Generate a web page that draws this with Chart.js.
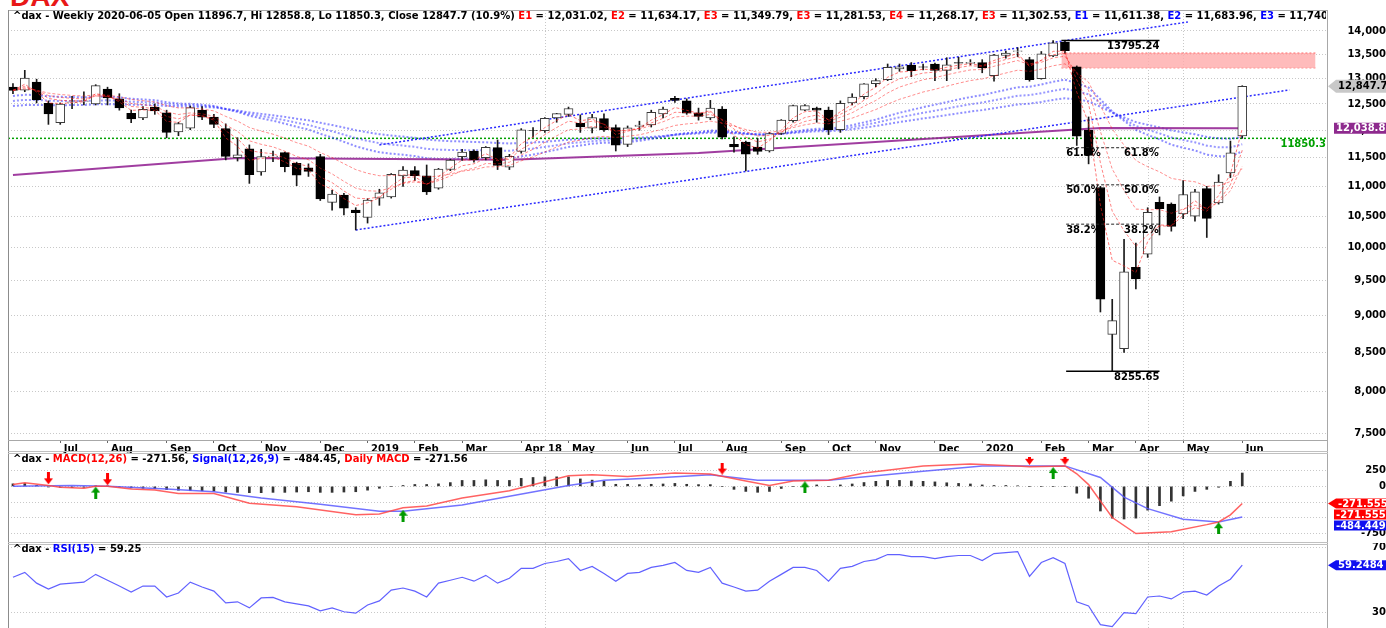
<!DOCTYPE html>
<html>
<head>
<meta charset="utf-8">
<title>DAX weekly</title>
<script src="https://cdn.jsdelivr.net/npm/chart.js@4.4.1/dist/chart.umd.min.js"></script>
<style>
  html, body { margin: 0; padding: 0; background: #fff; }
  body { position: relative; width: 1386px; height: 628px; overflow: hidden; font-family: "DejaVu Sans", Verdana, sans-serif; }
  canvas { position: absolute; left: 0; }
  .rule { position: absolute; background: #a8a8a8; z-index: 4; }
  .ttl { position: absolute; left: 13px; width: 1313px; overflow: hidden; white-space: nowrap;
         font: bold 10px "DejaVu Sans", Verdana, sans-serif; line-height: 12px; color: #000; z-index: 5; }
  .r { color: #ff0000; }
  .b { color: #0000ff; }
  #dax { position: absolute; left: 10px; top: -17px; font: bold 28px "Liberation Sans", Arial, sans-serif;
         line-height: 28px; color: #e81818; }
</style>
</head>
<body>
<div id="dax">DAX</div>
<canvas id="priceChart" width="1386" height="453" style="top:0"></canvas>
<canvas id="macdChart" width="1386" height="91" style="top:452px"></canvas>
<canvas id="rsiChart" width="1386" height="85" style="top:543px"></canvas>

<div class="rule" style="left:8px;top:10px;width:1320px;height:1px"></div>
<div class="rule" style="left:8px;top:10px;width:1px;height:618px;background:#8c8c8c"></div>
<div class="rule" style="left:1327px;top:10px;width:1px;height:618px"></div>
<div class="rule" style="left:8px;top:440px;width:1320px;height:1px"></div>
<div class="rule" style="left:8px;top:451px;width:1320px;height:1px;background:#c0c0c0"></div>
<div class="rule" style="left:8px;top:453px;width:1320px;height:1px;background:#c0c0c0"></div>
<div class="rule" style="left:8px;top:542px;width:1320px;height:1px;background:#c0c0c0"></div>
<div class="rule" style="left:8px;top:544px;width:1320px;height:1px;background:#c0c0c0"></div>

<div class="ttl" style="top:10px">^dax - Weekly 2020-06-05 Open 11896.7, Hi 12858.8, Lo 11850.3, Close 12847.7 (10.9%) <span class="r">E1</span> = 12,031.02, <span class="r">E2</span> = 11,634.17, <span class="r">E3</span> = 11,349.79, <span class="r">E3</span> = 11,281.53, <span class="r">E4</span> = 11,268.17, <span class="r">E3</span> = 11,302.53, <span class="b">E1</span> = 11,611.38, <span class="b">E2</span> = 11,683.96, <span class="b">E3</span> = 11,740.90</div>
<div class="ttl" style="top:453px">^dax - <span class="r">MACD(12,26)</span> = -271.56, <span class="b">Signal(12,26,9)</span> = -484.45, <span class="r">Daily MACD</span> = -271.56</div>
<div class="ttl" style="top:543px">^dax - <span class="b">RSI(15)</span> = 59.25</div>

<script>
// weekly bars, 2018-06-08 .. 2020-06-05 (index 0..104)
const opens = [12830,12770,12930,12510,12140,12530,12550,12500,12790,12600,
  12320,12230,12440,12330,11970,12040,12380,12250,12030,11500,
  11660,11250,11510,11590,11400,11320,11520,10730,10850,10600,
  10480,10800,10820,11180,11270,11180,10970,11290,11520,11620,
  11500,11680,11330,11610,12000,11990,12230,12300,12130,12040,
  12220,12050,11740,12070,12100,12310,12610,12560,12330,12230,
  12400,11740,11780,11690,11620,11940,12180,12380,12420,12380,
  12010,12520,12640,12900,12980,13200,13270,13240,13300,13170,
  13330,13310,13330,13060,13480,13560,13390,13000,13470,13760,
  13240,12000,10980,8740,8550,9700,9900,10730,10700,10540,
  10500,10960,10720,11230,11896.7];
const highs = [12900,13170,12990,12560,12520,12650,12740,12880,12830,12700,
  12380,12450,12500,12380,12150,12460,12450,12300,12120,11860,
  11730,11650,11620,11600,11420,11390,11560,10930,10880,10640,
  10790,10950,11220,11340,11340,11370,11310,11470,11650,11640,
  11700,11820,11560,12030,12050,12240,12320,12440,12290,12300,
  12310,12100,12080,12170,12380,12440,12650,12600,12420,12570,
  12450,11880,11800,11850,11960,12200,12480,12490,12440,12440,
  12560,12700,12900,13000,13300,13300,13330,13300,13320,13430,
  13440,13390,13390,13500,13570,13640,13440,13560,13790,13795.24,
  13260,12250,11000,9230,10130,10070,10640,10820,10720,11100,
  10950,11000,11200,11800,12858.8];
const lows = [12700,12740,12520,12110,12110,12410,12480,12480,12480,12380,
  12140,12200,12300,11860,11900,12010,12200,12050,11460,11440,
  11050,11190,11430,11250,11010,11170,10760,10600,10520,10279,
  10390,10680,10800,11000,11100,10860,10950,11270,11450,11420,
  11460,11290,11290,11580,11870,11960,12150,12260,11960,11950,
  11980,11620,11700,12000,12060,12230,12530,12300,12190,12200,
  11840,11600,11266,11560,11600,11920,12150,12370,12150,11920,
  11960,12480,12600,12840,12960,13150,13040,13180,12960,12960,
  13200,13280,13120,12950,13420,13450,12950,12990,13450,13520,
  11720,11390,9050,8255.65,8500,9380,9850,10200,10260,10460,
  10420,10160,10700,11150,11850.3];
const closes = [12766,13011,12580,12306,12496,12541,12561,12860,12616,12424,
  12211,12395,12364,11960,12124,12431,12247,12111,11524,11553,
  11201,11519,11529,11341,11192,11257,10788,10866,10634,10559,
  10768,10887,11205,11282,11181,10906,11299,11458,11602,11458,
  11686,11364,11526,12010,11999,12222,12315,12412,12060,12239,
  12011,11727,12045,12096,12340,12399,12568,12323,12260,12419,
  11872,11694,11563,11612,11939,12191,12469,12468,12381,12013,
  12512,12634,12895,12961,13229,13242,13164,13236,13167,13283,
  13319,13337,13219,13483,13526,13577,12982,13514,13745,13579,
  11890,11541,9232,8929,9633,9525,10565,10626,10336,10861,
  10904,10465,11074,11586,12847.7];

// short-term averages (red, dashed)
const redE1 = [12766,12889,12734,12520,12508,12525,12543,12701,12659,12541,12376,12386,12375,12168,12146,12289,12268,12190,11857,11705,11453,11486,11508,11425,11309,11283,11036,10951,10793,10676,10722,10805,11005,11144,11163,11035,11167,11313,11458,11458,11572,11468,11497,11754,11877,12050,12183,12298,12179,12209,12110,11919,11982,12039,12190,12295,12432,12378,12319,12369,12121,11908,11736,11674,11807,11999,12234,12351,12366,12190,12351,12493,12694,12828,13029,13136,13150,13193,13180,13232,13276,13307,13263,13373,13450,13514,13248,13381,13563,13571,12731,12136,10684,9807,9720,9623,10094,10360,10348,10605,10755,10610,10842,11214,12031];
const redE2 = [12766,12848,12759,12608,12571,12561,12561,12661,12646,12572,12452,12433,12410,12260,12215,12287,12274,12220,11988,11843,11629,11592,11571,11494,11393,11348,11161,11063,10920,10800,10789,10822,10950,11061,11101,11036,11124,11235,11357,11391,11489,11447,11473,11652,11768,11919,12051,12171,12134,12169,12116,11986,12006,12036,12137,12224,12339,12334,12309,12346,12188,12023,11870,11784,11836,11954,12126,12240,12287,12196,12301,12412,12573,12702,12878,12999,13054,13115,13132,13182,13228,13264,13249,13327,13393,13454,13297,13369,13494,13522,12978,12499,11410,10583,10266,10019,10201,10343,10341,10514,10644,10584,10747,11027,11634];
const redE3 = [12766,12820,12767,12665,12627,12608,12598,12656,12647,12597,12511,12485,12458,12347,12297,12327,12309,12265,12100,11978,11805,11741,11694,11616,11522,11463,11313,11214,11085,10968,10924,10916,10980,11047,11077,11039,11097,11177,11271,11313,11396,11389,11419,11550,11650,11777,11897,12011,12022,12070,12057,11984,11998,12020,12091,12159,12250,12266,12265,12299,12204,12091,11974,11894,11904,11968,12079,12165,12213,12169,12245,12331,12456,12568,12715,12832,12906,12979,13021,13079,13132,13178,13187,13253,13314,13372,13285,13336,13427,13461,13112,12763,11978,11300,10930,10618,10606,10610,10549,10618,10682,10634,10732,10922,11350];
const redE6 = [12766,12797,12770,12712,12685,12667,12654,12680,12672,12641,12587,12563,12538,12466,12423,12424,12402,12366,12261,12172,12051,11984,11927,11854,11771,11707,11592,11501,11393,11289,11224,11182,11185,11197,11195,11159,11177,11212,11261,11286,11336,11340,11363,11444,11513,11602,11691,11781,11816,11869,11887,11867,11889,11915,11968,12022,12090,12119,12137,12172,12134,12079,12014,11964,11961,11990,12050,12102,12137,12121,12170,12228,12311,12392,12497,12590,12662,12734,12788,12850,12909,12963,12995,13056,13115,13173,13149,13195,13264,13303,13126,12928,12466,12024,11725,11450,11339,11250,11136,11102,11077,11000,11009,11081,11302];

// long-term averages (blue, dotted)
const blueE1 = [12657,12680,12674,12650,12640,12634,12629,12644,12642,12628,12601,12588,12574,12534,12508,12503,12486,12462,12402,12347,12273,12224,12179,12125,12065,12013,11934,11865,11786,11707,11646,11597,11572,11553,11529,11489,11477,11476,11484,11482,11495,11487,11490,11524,11555,11598,11644,11694,11718,11752,11769,11766,11784,11804,11839,11875,11920,11946,11966,11995,11987,11968,11942,11921,11922,11939,11973,12005,12029,12028,12059,12096,12148,12200,12266,12329,12383,12438,12485,12536,12587,12635,12673,12725,12777,12829,12839,12883,12939,12980,12910,12822,12590,12354,12178,12007,11914,11831,11735,11679,11629,11554,11523,11527,11611];
const blueE2 = [12559,12579,12578,12563,12558,12556,12555,12569,12570,12562,12544,12536,12527,12498,12480,12477,12465,12447,12402,12361,12305,12267,12231,12189,12141,12100,12037,11982,11918,11854,11804,11762,11737,11718,11694,11659,11644,11638,11639,11632,11637,11626,11624,11645,11664,11693,11725,11760,11776,11799,11810,11807,11819,11833,11858,11885,11918,11938,11953,11976,11970,11957,11937,11922,11923,11936,11962,11986,12005,12005,12029,12058,12099,12140,12192,12242,12285,12330,12369,12411,12454,12494,12527,12571,12615,12660,12673,12711,12759,12796,12749,12688,12518,12342,12210,12080,12008,11942,11866,11820,11777,11716,11687,11685,11741];
const blueE3 = [12460,12478,12481,12475,12476,12478,12481,12493,12497,12495,12486,12483,12479,12462,12451,12450,12443,12432,12402,12374,12336,12309,12283,12252,12217,12186,12140,12098,12050,12001,11961,11926,11902,11882,11859,11828,11811,11799,11793,11782,11779,11765,11757,11765,11773,11788,11805,11825,11833,11846,11851,11847,11853,11861,11877,11894,11916,11929,11940,11956,11953,11945,11932,11922,11923,11932,11950,11967,11981,11982,11999,12020,12049,12079,12117,12154,12187,12221,12252,12286,12320,12353,12381,12417,12453,12490,12506,12539,12579,12612,12588,12554,12445,12330,12242,12153,12101,12053,11997,11960,11925,11877,11851,11842,11875];

// long moving average (purple), read at its bends
const purpleX = [0, 19, 42, 58, 92, 104];
const purpleY = [11195, 11494, 11465, 11584, 12043, 12039];

// trend channel (blue dotted)
const chanLowX = [29, 108];
const chanLowY = [10279, 12775];
const chanHighX = [31, 99.4];
const chanHighY = [11730, 14197];

const greenLevel = 11850.3;
const gapX = [88.7, 110.2];
const gapTop = 13530;
const gapBottom = 13219;
const peakX = [88.7, 97];
const peakValue = 13795.24;
const troughX = [89.1, 97];
const troughValue = 8255.65;
const fibX = [89.1, 97];
const fibValues = [11679, 11025, 10372];
const fibLabels = ['61.8%', '50.0%', '38.2%'];

const priceTicks = [7500, 8000, 8500, 9000, 9500, 10000, 10500, 11000, 11500, 12000, 12500, 13000, 13500, 14000];
const monthIdx = [4, 8, 13, 17, 21, 26, 30, 34, 38, 43, 47, 52, 56, 60, 65, 69, 73, 78, 82, 87, 91, 95, 99, 104];
const monthLbl = ['Jul', 'Aug', 'Sep', 'Oct', 'Nov', 'Dec', '2019', 'Feb', 'Mar', 'Apr 18', 'May', 'Jun',
  'Jul', 'Aug', 'Sep', 'Oct', 'Nov', 'Dec', '2020', 'Feb', 'Mar', 'Apr', 'May', 'Jun'];
const vLineIdx = [45, 96, 99];

// MACD panel
const macdX = [0,1,3,4,6,7,8,10,12,14,17,20,24,29,31,33,35,38,42,47,49,52,56,59,62,64,66,69,72,77,81,85,86,89,90,91,93,95,98,101,102,103,104];
const macdY = [28,56,14,-14,-28,0,0,-42,-56,-113,-113,-268,-325,-452,-438,-339,-311,-184,-71,170,184,155,212,198,85,14,85,99,212,325,353,325,311,325,200,28,-494,-748,-720,-607,-565,-452,-271.56];
const signalX = [0,5,8,13,17,21,26,31,33,38,42,47,50,55,59,63,69,77,82,89,92,94,96,99,102,104];
const signalY = [0,14,0,-42,-85,-184,-283,-396,-396,-297,-155,14,99,141,184,99,99,240,325,325,141,-170,-353,-523,-565,-484.45];
const macdHist = [40,45,15,-10,-15,-20,-15,5,5,-10,-25,-30,-35,-50,-60,-65,-70,-75,-90,-95,
  -100,-100,-95,-95,-90,-85,-95,-95,-90,-85,-60,-30,0,14,30,30,40,60,94,94,
  104,94,94,127,141,151,151,150,118,99,80,33,33,28,33,38,47,33,28,28,
  0,-47,-80,-94,-80,-33,0,9,23,0,23,38,61,80,94,94,85,80,71,57,
  47,38,23,14,14,9,0,0,0,0,-108,-188,-391,-504,-518,-504,-377,-306,-235,-151,
  -80,-47,-14,80,212];
const sellX = [3, 8, 60, 86, 89];
const sellY = [127, 113, 282, 438, 438];
const buyX = [7, 33, 67, 88, 102];
const buyY = [-99, -466, -14, 212, -664];
const macdTicks = [250, 0, -250, -500, -750];
const macdTickLbl = ['250', '0', '', '', '-750'];

// RSI panel
const rsi = [51.8,54.8,48.2,44.5,47.6,48.2,48.8,53.6,50,46.4,42.7,46.4,46.4,39.7,42.1,48.8,45.8,43.3,36,36.7,
  33,39.1,39.4,36.7,35.5,34.2,31.2,33,30.6,29.7,34.8,37.3,43.9,45.2,43.3,39.7,48.2,50,51.8,49.4,
  53,48.2,51.2,57.3,57.3,60.3,61.5,63.3,56,58.5,54.2,49.4,54.2,54.8,57.9,59.1,60.9,56,54.8,57.9,
  48.2,45.8,43.3,43.9,49.4,53.6,57.9,57.9,56,49.4,57.3,58.5,61.5,62.7,65.8,65.8,64.5,64.5,63.3,64.5,
  65.2,65.2,62.1,66.4,67,67.6,52.4,60.9,63.9,60.3,36.7,34.2,22.7,21.5,30,29.4,39.7,40.3,38.5,42.7,
  43.3,40.9,46.4,50.6,59.25];
const rsiTicks = [70, 30];

const X_MIN = -0.42, X_MAX = 111.17;
const FONT = 'bold 10px "DejaVu Sans", Verdana, sans-serif';
const tickFont = { family: '"DejaVu Sans", Verdana, sans-serif', size: 10, weight: 'bold' };

const pts = arr => arr.map((v, i) => ({ x: i, y: v }));
const xy = (xs, ys) => xs.map((x, i) => ({ x, y: ys[i] }));

function lineDs(data, color, width, dash, order, extra) {
  return Object.assign({
    type: 'line', data, borderColor: color, borderWidth: width, borderDash: dash,
    pointRadius: 0, fill: false, tension: 0, order
  }, extra || {});
}

function padFor(labels) {
  const c = document.createElement('canvas').getContext('2d');
  c.font = FONT;
  const w = Math.max(...labels.map(s => c.measureText(s).width));
  return 1383 - 1327 - w;
}

function arrowImg(color, up) {
  const c = document.createElement('canvas');
  c.width = 9; c.height = 12;
  const g = c.getContext('2d');
  g.fillStyle = color;
  if (up) {
    g.beginPath(); g.moveTo(4.5, 0); g.lineTo(9, 6); g.lineTo(0, 6); g.closePath(); g.fill();
    g.fillRect(3, 6, 3, 6);
  } else {
    g.fillRect(3, 0, 3, 6);
    g.beginPath(); g.moveTo(0, 6); g.lineTo(9, 6); g.lineTo(4.5, 12); g.closePath(); g.fill();
  }
  return c;
}

function tag(ctx, label, py, fill, color, arrow, h) {
  const x0 = arrow ? 1336 : 1334;
  ctx.beginPath();
  if (arrow) { ctx.moveTo(1328, py); ctx.lineTo(x0, py - h / 2); } else { ctx.moveTo(x0, py - h / 2); }
  ctx.lineTo(1386, py - h / 2);
  ctx.lineTo(1386, py + h / 2);
  ctx.lineTo(x0, py + h / 2);
  ctx.closePath();
  ctx.fillStyle = fill;
  ctx.fill();
  ctx.fillStyle = color;
  ctx.textAlign = 'left';
  ctx.textBaseline = 'middle';
  ctx.fillText(label, x0 + 2, py + 0.5);
}

const vGrid = {
  id: 'vGrid',
  beforeDatasetsDraw(chart) {
    const { ctx, chartArea: a, scales: { x } } = chart;
    ctx.save();
    ctx.strokeStyle = '#c8c8c8';
    ctx.lineWidth = 1;
    ctx.setLineDash([1, 2]);
    vLineIdx.forEach(v => {
      const px = Math.round(x.getPixelForValue(v)) + 0.5;
      ctx.beginPath(); ctx.moveTo(px, a.top); ctx.lineTo(px, a.bottom); ctx.stroke();
    });
    ctx.restore();
  }
};

function yAxis(opts) {
  return Object.assign({
    position: 'right',
    afterFit: s => { s.width = 59; s.paddingTop = 0; s.paddingBottom = 0; },
    grid: { color: '#c8c8c8', drawTicks: false },
    border: { display: false, dash: [1, 2] }
  }, opts);
}

const hiddenX = { type: 'linear', min: X_MIN, max: X_MAX, offset: false, grid: { offset: false }, display: false };

const baseOptions = {
  responsive: false, animation: false, events: [],
  plugins: { legend: { display: false }, tooltip: { enabled: false } }
};

Chart.defaults.font.family = '"DejaVu Sans", Verdana, sans-serif';

// ---------- price panel ----------
const priceNotes = {
  id: 'priceNotes',
  afterDraw(chart) {
    const { ctx, scales: { x, y }, chartArea: a } = chart;
    ctx.save();
    ctx.font = FONT;
    ctx.textBaseline = 'middle';
    ctx.fillStyle = '#000';
    ctx.textAlign = 'right';
    ctx.fillText('13795.24', x.getPixelForValue(97), y.getPixelForValue(peakValue) + 6);
    ctx.fillText('8255.65', x.getPixelForValue(97), y.getPixelForValue(troughValue) + 6);
    ctx.textAlign = 'left';
    fibValues.forEach((v, k) => {
      const py = y.getPixelForValue(v) + 6;
      ctx.fillText(fibLabels[k], x.getPixelForValue(89.1), py);
      ctx.fillText(fibLabels[k], x.getPixelForValue(94), py);
    });
    ctx.fillStyle = '#00a000';
    ctx.textAlign = 'right';
    ctx.fillText('11850.3', a.right - 1, y.getPixelForValue(greenLevel) + 6);
    tag(ctx, '12,847.7', y.getPixelForValue(closes[104]), '#c8c8c8', '#000', true, 13);
    tag(ctx, '12,038.8', y.getPixelForValue(12038.8), '#8e2a8e', '#fff', false, 11);
    ctx.restore();
  }
};

new Chart(document.getElementById('priceChart'), {
  type: 'bar',
  data: {
    datasets: [
      lineDs(xy([X_MIN, X_MAX], [greenLevel, greenLevel]), '#00a000', 1.5, [2, 2], 10),
      lineDs(pts(blueE1), 'rgba(50,50,255,0.55)', 2, [2, 2], 9),
      lineDs(pts(blueE2), 'rgba(50,50,255,0.5)', 2, [2, 2], 9),
      lineDs(pts(blueE3), 'rgba(50,50,255,0.55)', 2, [2, 2], 9),
      lineDs(xy(purpleX, purpleY), 'rgba(150,40,150,0.9)', 2, [], 8),
      lineDs(xy(gapX, [gapTop, gapTop]), 'rgba(255,60,60,0.7)', 1, [2, 2], 7,
        { fill: { value: gapBottom }, backgroundColor: 'rgba(255,170,170,0.8)' }),
      lineDs(xy(gapX, [gapBottom, gapBottom]), 'rgba(255,60,60,0.7)', 1, [2, 2], 7),
      lineDs(xy(chanLowX, chanLowY), '#2a2aff', 1.5, [2, 2], 6),
      lineDs(xy(chanHighX, chanHighY), '#2a2aff', 1.5, [2, 2], 6),
      {
        type: 'bar', order: 5, grouped: false, barThickness: 1,
        data: lows.map((l, i) => ({ x: i, y: [l, highs[i]] })),
        backgroundColor: '#1a1a1a'
      },
      {
        type: 'bar', order: 4, grouped: false, barThickness: 9, borderWidth: 1, borderSkipped: false,
        data: opens.map((o, i) => ({ x: i, y: [o, closes[i]] })),
        backgroundColor: opens.map((o, i) => closes[i] >= o ? '#ffffff' : '#000000'),
        borderColor: opens.map((o, i) => closes[i] >= o ? '#3a3a3a' : '#000000')
      },
      lineDs(pts(redE1), 'rgba(255,30,30,0.6)', 1, [3, 2], 3),
      lineDs(pts(redE2), 'rgba(255,30,30,0.55)', 1, [3, 2], 3),
      lineDs(pts(redE3), 'rgba(255,30,30,0.5)', 1, [3, 2], 3),
      lineDs(pts(redE6), 'rgba(255,30,30,0.5)', 1, [3, 2], 3),
      lineDs(xy(peakX, [peakValue, peakValue]), '#000', 1.5, [], 2),
      lineDs(xy(troughX, [troughValue, troughValue]), '#000', 1.5, [], 2),
      ...fibValues.map(v => lineDs(xy(fibX, [v, v]), '#222', 1, [3, 2], 2))
    ]
  },
  options: Object.assign({}, baseOptions, {
    layout: { padding: { left: 8, top: 10, right: 0, bottom: 0 } },
    scales: {
      x: {
        type: 'linear', min: X_MIN, max: X_MAX, offset: false,
        afterBuildTicks: s => { s.ticks = monthIdx.map(v => ({ value: v })); },
        afterFit: s => { s.height = 13; s.paddingLeft = 0; s.paddingRight = 0; },
        ticks: {
          autoSkip: false, maxRotation: 0, minRotation: 0, align: 'start', padding: 0,
          color: '#000', font: tickFont, callback: (v, i) => ' ' + monthLbl[i]
        },
        grid: { offset: false, drawOnChartArea: false, drawTicks: true, tickLength: 3, color: '#666' },
        border: { display: false }
      },
      y: yAxis({
        type: 'logarithmic', min: 7419, max: 14463,
        afterBuildTicks: s => { s.ticks = priceTicks.map(v => ({ value: v })); },
        ticks: {
          autoSkip: false, crossAlign: 'far', padding: padFor(['14,000']),
          color: '#000', font: tickFont, callback: v => Number(v).toLocaleString('en-US')
        }
      })
    }
  }),
  plugins: [vGrid, priceNotes]
});

// ---------- MACD panel ----------
const macdNotes = {
  id: 'macdNotes',
  afterDraw(chart) {
    const { ctx, scales: { y } } = chart;
    ctx.save();
    ctx.font = FONT;
    const py = y.getPixelForValue(-271.555);
    tag(ctx, '-271.555', py, '#ff0000', '#fff', true, 10);
    tag(ctx, '-271.555', py + 11, '#ff0000', '#fff', false, 10);
    tag(ctx, '-484.449', py + 22, '#1010f0', '#fff', false, 10);
    ctx.restore();
  }
};

new Chart(document.getElementById('macdChart'), {
  type: 'bar',
  data: {
    datasets: [
      lineDs(xy(macdX, macdY), 'rgba(255,70,70,0.85)', 1.5, [], 3),
      lineDs(xy(signalX, signalY), 'rgba(90,90,255,0.85)', 1.5, [], 3),
      { type: 'bar', order: 4, grouped: false, barThickness: 2, data: pts(macdHist), backgroundColor: '#333' },
      lineDs(xy(sellX, sellY), '#f00', 0, [], 1, { showLine: false, pointRadius: 5, pointStyle: arrowImg('#ff0000', false) }),
      lineDs(xy(buyX, buyY), '#080', 0, [], 1, { showLine: false, pointRadius: 5, pointStyle: arrowImg('#009a00', true) })
    ]
  },
  options: Object.assign({}, baseOptions, {
    layout: { padding: { left: 8, top: 0, right: 0, bottom: 0 } },
    scales: {
      x: hiddenX,
      y: yAxis({
        type: 'linear', min: -819, max: 466,
        afterBuildTicks: s => { s.ticks = macdTicks.map(v => ({ value: v })); },
        ticks: {
          autoSkip: false, crossAlign: 'far', padding: padFor(['-750']),
          color: '#000', font: tickFont, callback: v => macdTickLbl[macdTicks.indexOf(v)]
        }
      })
    }
  }),
  plugins: [vGrid, macdNotes]
});

// ---------- RSI panel ----------
const rsiNotes = {
  id: 'rsiNotes',
  afterDraw(chart) {
    const { ctx, scales: { y } } = chart;
    ctx.save();
    ctx.font = FONT;
    tag(ctx, '59.2484', y.getPixelForValue(59.2484), '#1010f0', '#fff', true, 10);
    ctx.restore();
  }
};

new Chart(document.getElementById('rsiChart'), {
  type: 'line',
  data: { datasets: [lineDs(pts(rsi), 'rgba(80,80,255,0.9)', 1.2, [], 1)] },
  options: Object.assign({}, baseOptions, {
    layout: { padding: { left: 8, top: 0, right: 0, bottom: 0 } },
    scales: {
      x: hiddenX,
      y: yAxis({
        type: 'linear', min: 20.6, max: 72.9,
        afterBuildTicks: s => { s.ticks = rsiTicks.map(v => ({ value: v })); },
        ticks: {
          autoSkip: false, crossAlign: 'far', padding: padFor(['70']),
          color: '#000', font: tickFont, callback: v => String(v)
        }
      })
    }
  }),
  plugins: [vGrid, rsiNotes]
});
</script>
</body>
</html>
